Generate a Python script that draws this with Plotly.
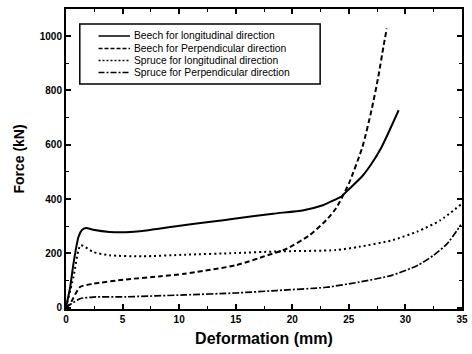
import plotly.graph_objects as go

# ---- data ----
beech_long_x = [0, 0.37, 0.66, 1.1, 1.39, 1.77, 2.4, 3.85, 5.3, 6.75, 8.2, 9.9, 12.8, 15.0, 18.3, 21.0, 22.7, 23.8, 24.3, 25.0, 26.2, 27.0, 27.9, 29.4]
beech_long_y = [0, 76, 162, 260, 285, 293, 287, 279, 278, 282, 291, 301, 316, 328, 346, 359, 377, 398, 408, 436, 485, 530, 592, 727]

beech_perp_x = [0, 0.37, 1.24, 2.4, 5.3, 8.2, 10.5, 15.0, 17.8, 19.5, 21.5, 23.0, 23.85, 25.0, 26.2, 27.0, 27.6, 28.05, 28.35]
beech_perp_y = [0, 15, 76, 88, 104, 115, 125, 156, 193, 217, 266, 322, 365, 457, 592, 727, 850, 960, 1028]

spruce_long_x = [0, 0.66, 1.3, 2.4, 3.85, 6.75, 10.5, 15.0, 18.6, 23.85, 25.9, 28.8, 31.1, 33.1, 34.9]
spruce_long_y = [0, 113, 230, 205, 193, 189, 195, 201, 207, 212, 224, 248, 281, 322, 380]

spruce_perp_x = [0, 0.5, 1.24, 2.4, 5.3, 10.5, 15.0, 18.6, 23.0, 25.9, 28.8, 31.1, 32.5, 33.7, 34.9]
spruce_perp_y = [0, 15, 33, 39, 40, 47, 54, 63, 75, 94, 119, 156, 193, 236, 305]

series_names = [
    "Beech for longitudinal direction",
    "Beech for Perpendicular direction",
    "Spruce for longitudinal direction",
    "Spruce for Perpendicular direction",
]
series_dash = ["solid", "5px,3px", "2px,3px", "7px,2px,2px,2px"]
series_width = [2, 2, 2, 1.7]

x_ticks = [0, 5, 10, 15, 20, 25, 30, 35]
y_ticks = [0, 200, 400, 600, 800, 1000]

series = [
    (beech_long_x, beech_long_y),
    (beech_perp_x, beech_perp_y),
    (spruce_long_x, spruce_long_y),
    (spruce_perp_x, spruce_perp_y),
]

FONT = "Liberation Sans, Arial, sans-serif"

fig = go.Figure()
for (xs, ys), name, dash, w in zip(series, series_names, series_dash, series_width):
    fig.add_trace(go.Scatter(
        x=xs, y=ys, name=name, mode="lines",
        line=dict(color="black", dash=dash, width=w, shape="spline", smoothing=0.6),
        showlegend=False,
    ))

# ---- manual legend box (paper coordinates) ----
W, H = 472, 354
ml, mr, mt, mb = 66, 4, 9, 45
pw, ph = W - ml - mr, H - mt - mb

def px2paper(px, py):
    return (px - ml) / pw, (H - mb - py) / ph

x0, y0 = px2paper(80, 24)
x1, y1 = px2paper(324, 84)
shapes = [dict(type="rect", xref="paper", yref="paper", x0=x0, y0=y1, x1=x1, y1=y0,
               line=dict(color="black", width=1.5), fillcolor="white", layer="above")]
annotations = []
rows = [36, 48.5, 60.5, 72.5]
legend_dash = ["solid", "4px,2px", "2px,2px", "6px,2px,2px,2px"]
for py, name, dash in zip(rows, series_names, legend_dash):
    lx0, ly = px2paper(99, py)
    lx1, _ = px2paper(131, py)
    shapes.append(dict(type="line", xref="paper", yref="paper", x0=lx0, x1=lx1, y0=ly, y1=ly,
                       line=dict(color="black", width=1.5, dash=dash), layer="above"))
    tx, _ = px2paper(133, py)
    annotations.append(dict(xref="paper", yref="paper", x=tx, y=ly, text=name, showarrow=False,
                            xanchor="left", yanchor="middle",
                            font=dict(family=FONT, size=10.3, color="black")))

fig.update_layout(
    width=W, height=H,
    margin=dict(l=ml, r=mr, t=mt, b=mb),
    paper_bgcolor="white", plot_bgcolor="white",
    shapes=shapes, annotations=annotations,
    font=dict(family=FONT, color="black"),
)
fig.update_xaxes(
    range=[0, 35], tickvals=x_ticks, ticks="inside", ticklen=5, tickwidth=1.5, tickcolor="black",
    minor=dict(dtick=2.5, ticks="inside", ticklen=3, tickwidth=1, tickcolor="black"),
    showline=True, linecolor="black", linewidth=2, mirror="ticks", showgrid=False, zeroline=False,
    tickfont=dict(family=FONT, size=10, weight="bold"),
    title=dict(text="Deformation (mm)", font=dict(family=FONT, size=16, weight="bold"), standoff=9),
)
fig.update_yaxes(
    range=[-5, 1100], tickvals=y_ticks, ticks="inside", ticklen=5, tickwidth=1.5, tickcolor="black",
    minor=dict(dtick=100, ticks="inside", ticklen=3, tickwidth=1, tickcolor="black"),
    showline=True, linecolor="black", linewidth=2, mirror="ticks", showgrid=False, zeroline=False,
    tickfont=dict(family=FONT, size=10, weight="bold"),
    title=dict(text="Force (kN)", font=dict(family=FONT, size=14, weight="bold"), standoff=12),
)

fig.write_html("out.html")
